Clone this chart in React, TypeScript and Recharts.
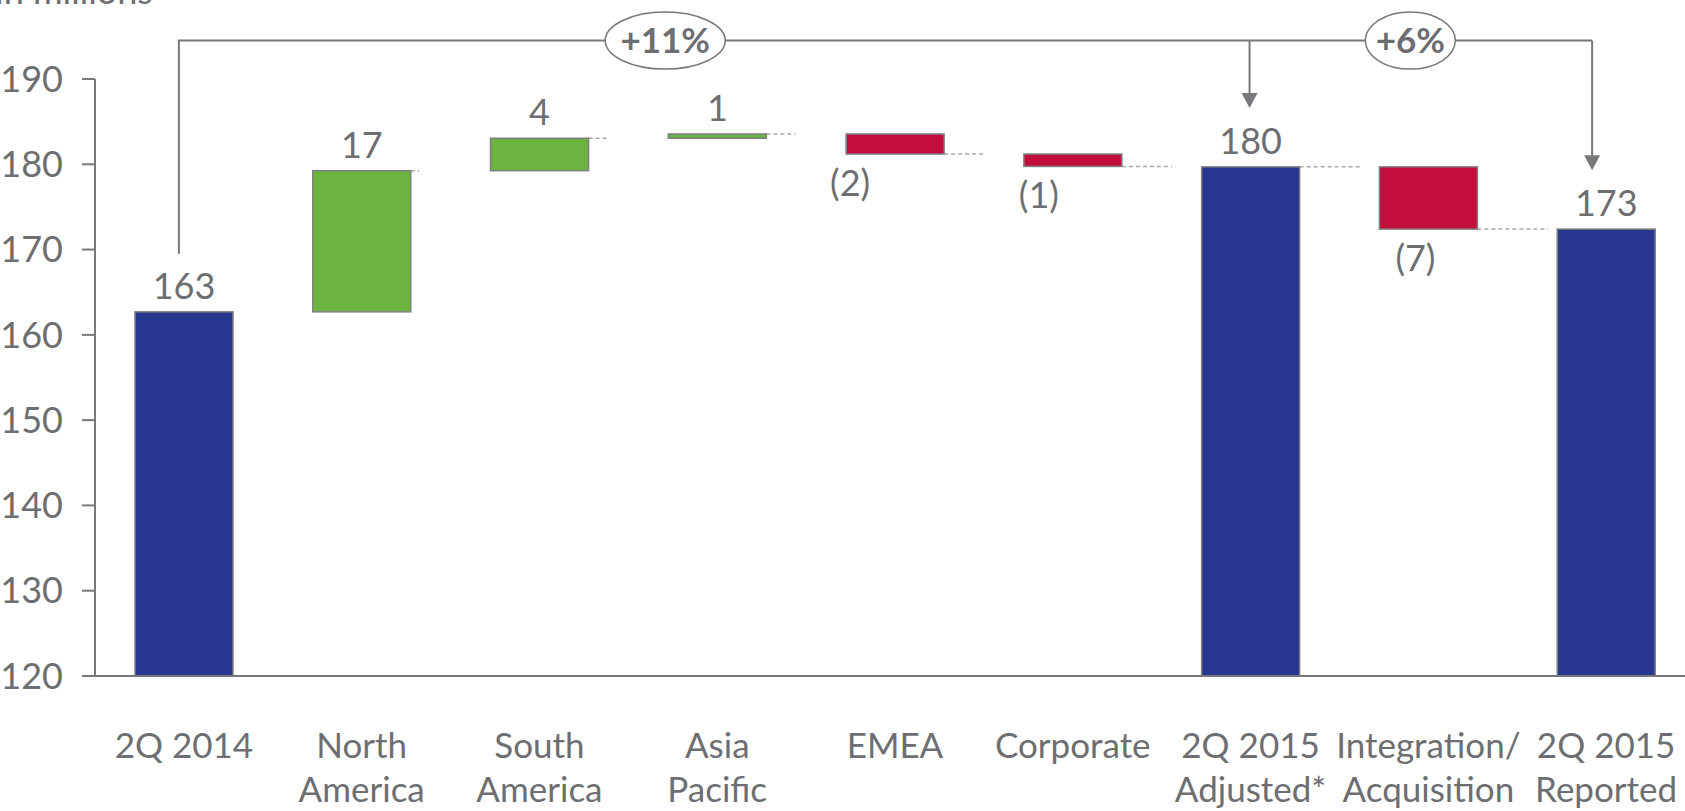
import React from 'react';
import { BarChart, Bar, XAxis, YAxis, ReferenceLine, ReferenceDot } from 'recharts';

// ---------- data ----------
const categories = [
  '2Q 2014',
  'North America',
  'South America',
  'Asia Pacific',
  'EMEA',
  'Corporate',
  '2Q 2015 Adjusted*',
  'Integration/ Acquisition',
  '2Q 2015 Reported',
];
const categoryLines = [
  ['2Q 2014'],
  ['North', 'America'],
  ['South', 'America'],
  ['Asia', 'Pacific'],
  ['EMEA'],
  ['Corporate'],
  ['2Q 2015', 'Adjusted*'],
  ['Integration/', 'Acquisition'],
  ['2Q 2015', 'Reported'],
];
const kinds = ['total', 'up', 'up', 'up', 'down', 'down', 'total', 'down', 'total'];
const amounts = [162.7, 16.55, 3.8, 0.5, -2.35, -1.45, 179.7, -7.3, 172.4];
const valueLabels = ['163', '17', '4', '1', '(2)', '(1)', '180', '(7)', '173'];
const yTicks = [120, 130, 140, 150, 160, 170, 180, 190];
const growthLabels = ['+11%', '+6%'];
const bracketTop = 194.5;
const bracketLeftBottom = 169.5;
const arrowTips = [186.6, 179.3];
const unitLabel = 'in millions';

// ---------- styles ----------
const FONT = 'Lato, "Open Sans", sans-serif';
const TEXT = '#6d6e71';
const LINE = '#78787c';
const COLORS: Record<string, string> = { total: '#27378f', up: '#6cb33f', down: '#c30d3d' };
const AXIS_MIN = yTicks[0];
const AXIS_MAX = yTicks[yTicks.length - 1];
const NEG_LABEL_SHIFT: Record<number, number> = { 4: -45, 5: -34, 7: -13 };

let running = 0;
const data = categories.map((name, i) => {
  let low: number;
  let high: number;
  if (kinds[i] === 'total') {
    low = AXIS_MIN;
    high = amounts[i];
    running = amounts[i];
  } else {
    const next = running + amounts[i];
    low = Math.min(running, next);
    high = Math.max(running, next);
    running = next;
  }
  return { name, range: [low, high], kind: kinds[i], label: valueLabels[i] };
});

const BarShape = (props: any) => {
  const { x, y, width, height, payload } = props;
  const idx = categories.indexOf(payload.name);
  const kind = payload.kind;
  const fill = COLORS[kind];
  const connY = kind === 'down' ? y + height : y;
  const len = idx > 0 && idx < categories.length - 1 ? idx * 10.4 - 2 : 0;
  const isDown = kind === 'down';
  const labelX = x + width / 2 + (isDown ? NEG_LABEL_SHIFT[idx] || 0 : 0);
  const labelY = isDown ? y + height + 42 : y - 13;
  return (
    <g>
      {len > 0 && (
        <line
          x1={x + width}
          y1={connY}
          x2={x + width + len}
          y2={connY}
          stroke="#a9a9ab"
          strokeWidth={1.5}
          strokeDasharray="4 3"
        />
      )}
      <rect x={x} y={y} width={width} height={Math.max(height, 1)} fill={fill} stroke="#7f7f83" strokeWidth={1.5} />
      <text x={labelX} y={labelY} textAnchor="middle" fill={TEXT} fontSize={36} fontFamily={FONT}>
        {payload.label}
      </text>
    </g>
  );
};

const CategoryTick = (props: any) => {
  const { x, y, payload } = props;
  const idx = categories.indexOf(payload.value);
  const lines = categoryLines[idx] || [payload.value];
  return (
    <text x={x} y={y + 74} textAnchor="middle" fill={TEXT} fontSize={35} fontFamily={FONT}>
      {lines.map((l, k) => (
        <tspan key={k} x={x} dy={k === 0 ? 0 : 44}>
          {l}
        </tspan>
      ))}
    </text>
  );
};

const segShape = (dx1: number, dx2: number, arrow: boolean) => (p: any) => {
  const x1 = p.x1 + dx1;
  const x2 = p.x2 + dx2;
  const ah = 15;
  return (
    <g>
      <line x1={x1} y1={p.y1} x2={x2} y2={arrow ? p.y2 - ah + 1 : p.y2} stroke={LINE} strokeWidth={2} />
      {arrow && (
        <polygon points={`${x2 - 8},${p.y2 - ah} ${x2 + 8},${p.y2 - ah} ${x2},${p.y2}`} fill={LINE} />
      )}
    </g>
  );
};

const ovalShape = (dx: number, rx: number, text: string) => (p: any) => {
  const cx = p.cx + dx;
  const cy = p.cy;
  return (
    <g>
      <ellipse cx={cx} cy={cy} rx={rx} ry={28.5} fill="#ffffff" stroke={LINE} strokeWidth={1.5} />
      <text x={cx} y={cy + 12} textAnchor="middle" fill={TEXT} fontSize={35} fontWeight="bold" fontFamily={FONT}>
        {text}
      </text>
    </g>
  );
};

export default function App() {
  return (
    <div style={{ position: 'absolute', left: 0, top: 0, width: 1685, height: 811, overflow: 'hidden', background: '#fff' }}>
      <BarChart
        width={1700}
        height={811}
        data={data}
        margin={{ top: 79, right: 5, bottom: 1, left: 0 }}
        barSize={98}
      >
        <XAxis
          dataKey="name"
          interval={0}
          tickLine={false}
          axisLine={{ stroke: LINE, strokeWidth: 2 }}
          height={134}
          tick={<CategoryTick />}
        />
        <YAxis
          type="number"
          domain={[AXIS_MIN, AXIS_MAX]}
          ticks={yTicks}
          allowDataOverflow
          width={95}
          tickSize={13}
          tickMargin={19}
          axisLine={{ stroke: LINE, strokeWidth: 2 }}
          tickLine={{ stroke: LINE, strokeWidth: 2 }}
          tick={{ fill: TEXT, fontSize: 36, fontFamily: FONT }}
        />
        <Bar dataKey="range" isAnimationActive={false} shape={<BarShape />} />
        <ReferenceLine
          ifOverflow="visible"
          segment={[{ x: categories[0], y: bracketLeftBottom }, { x: categories[0], y: bracketTop }]}
          shape={segShape(-5, -5, false)}
        />
        <ReferenceLine
          ifOverflow="visible"
          segment={[{ x: categories[0], y: bracketTop }, { x: categories[8], y: bracketTop }]}
          shape={segShape(-6, -14, false)}
        />
        <ReferenceLine
          ifOverflow="visible"
          segment={[{ x: categories[6], y: bracketTop }, { x: categories[6], y: arrowTips[0] }]}
          shape={segShape(-1, -1, true)}
        />
        <ReferenceLine
          ifOverflow="visible"
          segment={[{ x: categories[8], y: bracketTop }, { x: categories[8], y: arrowTips[1] }]}
          shape={segShape(-14, -14, true)}
        />
        <ReferenceDot ifOverflow="visible" x={categories[3]} y={bracketTop} r={1} shape={ovalShape(-52, 60, growthLabels[0])} />
        <ReferenceDot ifOverflow="visible" x={categories[7]} y={bracketTop} r={1} shape={ovalShape(-18, 45, growthLabels[1])} />
      </BarChart>
      <svg width={300} height={20} style={{ position: 'absolute', left: 0, top: 0 }}>
        <text x={-5} y={4} fill={TEXT} fontSize={36} fontFamily={FONT}>
          {unitLabel}
        </text>
      </svg>
    </div>
  );
}
